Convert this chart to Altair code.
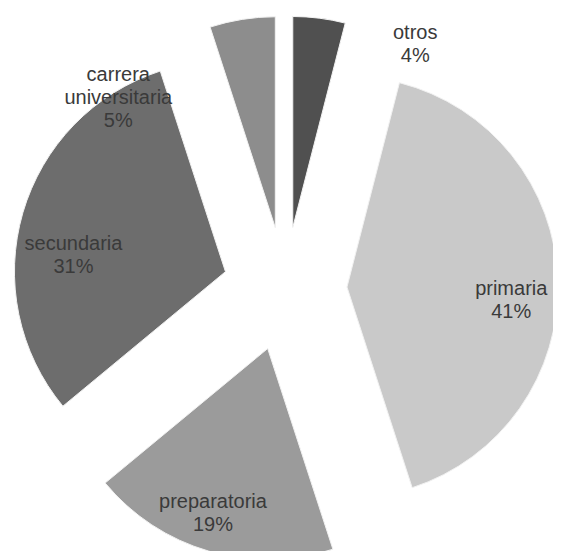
import altair as alt
import pandas as pd

# ---- data ----
categories = ["otros", "primaria", "preparatoria", "secundaria", "carrera universitaria"]
values = [4, 41, 19, 31, 5]
colors = ["#505050", "#c9c9c9", "#9b9b9b", "#6d6d6d", "#8d8d8d"]

# ---- layout ----
W, H = 545, 543
CX, CY = 277, 281
R = 211
EXPLODE = 62
LABEL_R = 0.76 * R
# label placement: (radius fraction, dx, dy); small slices have their labels outside
label_nudge = {
    "otros": (1.0, 96, 15),
    "primaria": (LABEL_R / R, 4, 7),
    "preparatoria": (LABEL_R / R, -10, -1),
    "secundaria": (LABEL_R / R, 2, 17),
    "carrera universitaria": (1.0, -124, 56),
}

df = pd.DataFrame({"categoria": categories, "valor": values, "orden": list(range(len(categories)))})
df["etiqueta"] = [c.replace(" ", "\n") + "\n" + f"{v}%" for c, v in zip(categories, values)]

base = (
    alt.Chart(df)
    .transform_joinaggregate(total="sum(valor)")
    .transform_window(cum="sum(valor)", sort=[alt.SortField("orden")], frame=[None, 0])
    .transform_calculate(a0="2*PI*(datum.cum - datum.valor)/datum.total")
    .transform_calculate(a1="2*PI*datum.cum/datum.total")
    .transform_calculate(mid="(datum.a0 + datum.a1)/2")
    .transform_calculate(px=f"{CX} + {EXPLODE}*sin(datum.mid)")
    .transform_calculate(py=f"{CY} - {EXPLODE}*cos(datum.mid)")
)

arcs = base.mark_arc(radius=R, stroke="#f2f2f2", strokeWidth=1).encode(
    x=alt.X("px:Q", scale=None, axis=None),
    y=alt.Y("py:Q", scale=None, axis=None),
    theta=alt.Theta("a0:Q", scale=None, stack=None),
    theta2="a1:Q",
    color=alt.Color("categoria:N", scale=alt.Scale(domain=categories, range=colors), legend=None),
)

layers = [arcs]
for cat in categories:
    frac, dx, dy = label_nudge[cat]
    rr = R * frac
    t = (
        base.transform_filter(alt.datum.categoria == cat)
        .transform_calculate(lx=f"datum.px + {rr}*sin(datum.mid)")
        .transform_calculate(ly=f"datum.py - {rr}*cos(datum.mid)")
        .mark_text(
            font="Liberation Sans",
            fontSize=20,
            lineHeight=23,
            lineBreak="\n",
            color="#3a3a3a",
            align="center",
            baseline="middle",
            dx=dx,
            dy=dy,
        )
        .encode(
            x=alt.X("lx:Q", scale=None, axis=None),
            y=alt.Y("ly:Q", scale=None, axis=None),
            text="etiqueta:N",
        )
    )
    layers.append(t)

chart = (
    alt.layer(*layers)
    .properties(width=W, height=H, padding=0, autosize="none", background="white")
    .configure_view(stroke=None)
)

chart.save("out.html", embed_options={"renderer": "svg", "actions": False})
